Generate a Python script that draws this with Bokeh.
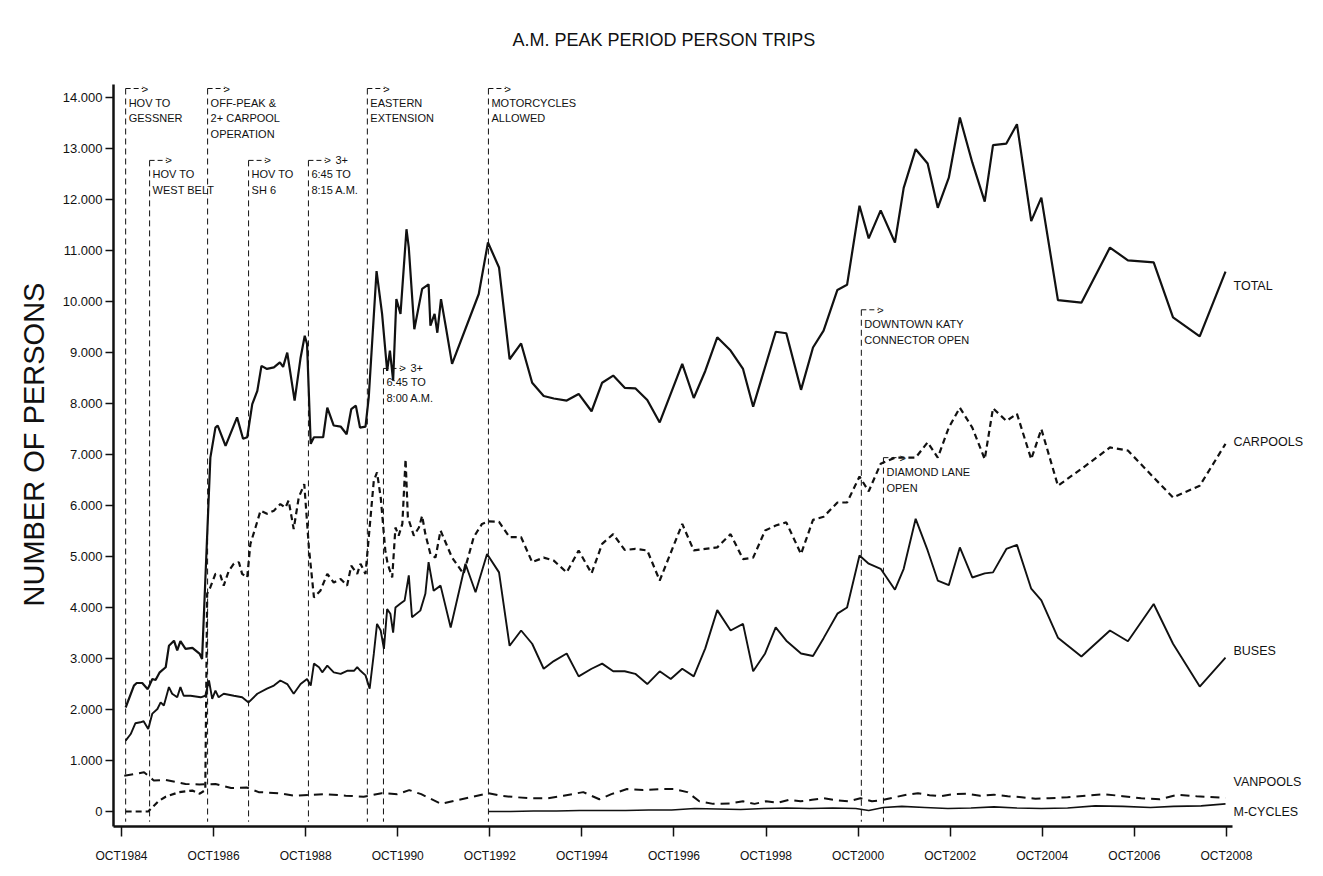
from bokeh.plotting import figure
from bokeh.models import FixedTicker, Range1d
from bokeh.core.properties import value
from bokeh.embed import file_html
from bokeh.resources import INLINE

# ---------------- data ----------------
x_tick_values = [1984.75, 1986.75, 1988.75, 1990.75, 1992.75, 1994.75, 1996.75,
                 1998.75, 2000.75, 2002.75, 2004.75, 2006.75, 2008.75]
x_tick_labels = ["OCT1984", "OCT1986", "OCT1988", "OCT1990", "OCT1992", "OCT1994", "OCT1996",
                 "OCT1998", "OCT2000", "OCT2002", "OCT2004", "OCT2006", "OCT2008"]
y_tick_values = [0, 1000, 2000, 3000, 4000, 5000, 6000, 7000, 8000, 9000, 10000, 11000, 12000, 13000, 14000]
y_tick_labels = ["0", "1.000", "2.000", "3.000", "4.000", "5.000", "6.000", "7.000", "8.000",
                 "9.000", "10.000", "11.000", "12.000", "13.000", "14.000"]

total_x = [1984.84, 1985.02, 1985.08, 1985.20, 1985.32, 1985.42, 1985.49, 1985.58, 1985.71, 1985.78,
           1985.89, 1985.96, 1986.03, 1986.14, 1986.29, 1986.45, 1986.50, 1986.68, 1986.79, 1986.84,
           1987.01, 1987.26, 1987.39, 1987.48, 1987.59, 1987.70, 1987.79, 1987.91, 1988.06, 1988.19,
           1988.26, 1988.35, 1988.51, 1988.64, 1988.73, 1988.78, 1988.86, 1988.93, 1989.13, 1989.22,
           1989.36, 1989.51, 1989.64, 1989.74, 1989.84, 1989.93, 1990.05, 1990.12, 1990.29, 1990.41,
           1990.52, 1990.58, 1990.65, 1990.72, 1990.81, 1990.94, 1990.99, 1991.11, 1991.28, 1991.42,
           1991.46, 1991.55, 1991.61, 1991.69, 1991.79, 1991.93, 1992.51,
           1992.71, 1992.95, 1993.18, 1993.43, 1993.67, 1993.92, 1994.14, 1994.42, 1994.68, 1994.96,
           1995.19, 1995.43, 1995.68, 1995.91, 1996.17, 1996.44, 1996.93, 1997.18, 1997.43, 1997.69,
           1997.98, 1998.25, 1998.47, 1998.96, 1999.19, 1999.51, 1999.77, 2000.00, 2000.30, 2000.51,
           2000.78, 2000.98, 2001.24, 2001.55, 2001.74, 2002.00, 2002.26, 2002.48, 2002.72, 2002.96,
           2003.23, 2003.50, 2003.68, 2003.97, 2004.20, 2004.51, 2004.73, 2005.09, 2005.60, 2006.22,
           2006.61, 2007.17, 2007.59, 2008.17, 2008.73]
total_y = [2040, 2470, 2520, 2520, 2400, 2600, 2580, 2730, 2830, 3250,
           3350, 3160, 3340, 3190, 3210, 3090, 2990, 6940, 7530, 7570,
           7170, 7730, 7310, 7340, 7990, 8250, 8740, 8680, 8710, 8810,
           8720, 9000, 8060, 8900, 9330, 9170, 7210, 7340, 7340, 7920,
           7570, 7550, 7400, 7890, 7960, 7530, 7550, 8120, 10600, 9760,
           8640, 9040, 8450, 10050, 9760, 11420, 11060, 9460, 10250, 10340,
           9530, 9760, 9390, 10050, 9530, 8780, 10150,
           11160, 10670, 8870, 9180, 8410, 8150, 8100, 8060, 8190, 7850,
           8410, 8550, 8310, 8300, 8070, 7630, 8780, 8110, 8640, 9300,
           9040, 8680, 7940, 9410, 9380, 8270, 9100, 9430, 10230, 10330,
           11880, 11240, 11790, 11160, 12230, 12990, 12710, 11840, 12430, 13610,
           12730, 11960, 13070, 13100, 13480, 11580, 12040, 10030, 9980, 11060,
           10810, 10770, 9690, 9320, 10590]

carpool_x = [1984.84, 1985.33, 1985.55, 1985.71, 1986.00, 1986.29, 1986.45, 1986.57, 1986.61, 1986.68,
             1986.79, 1986.90, 1986.97, 1987.08, 1987.19, 1987.30, 1987.37, 1987.48, 1987.55, 1987.66,
             1987.77, 1987.91, 1988.06, 1988.20, 1988.31, 1988.38, 1988.49, 1988.60, 1988.72, 1988.82,
             1988.93, 1989.07, 1989.22, 1989.36, 1989.51, 1989.65, 1989.74, 1989.87, 1989.94, 1990.05,
             1990.23, 1990.30, 1990.38, 1990.48, 1990.53, 1990.63, 1990.70, 1990.77, 1990.85, 1990.92,
             1990.97, 1991.10, 1991.21, 1991.28, 1991.35, 1991.46, 1991.57, 1991.68, 1991.93, 1992.18,
             1992.40, 1992.58, 1992.73,
             1992.95, 1993.18, 1993.43, 1993.67, 1993.92, 1994.14, 1994.42, 1994.68, 1994.96, 1995.19,
             1995.43, 1995.68, 1995.91, 1996.17, 1996.44, 1996.93, 1997.18, 1997.43, 1997.69, 1997.98,
             1998.25, 1998.47, 1998.73, 1998.96, 1999.19, 1999.51, 1999.77, 2000.00, 2000.30, 2000.51,
             2000.78, 2000.98, 2001.24, 2001.55, 2001.74, 2002.00, 2002.26, 2002.48, 2002.72, 2002.96,
             2003.23, 2003.50, 2003.68, 2003.97, 2004.20, 2004.51, 2004.73, 2005.09, 2005.60, 2006.22,
             2006.61, 2007.17, 2007.59, 2008.17, 2008.73]
carpool_y = [0, 0, 200, 290, 380, 410, 350, 420, 4270, 4400,
             4660, 4630, 4430, 4720, 4860, 4890, 4660, 4590, 5250, 5570,
             5900, 5840, 5900, 6030, 5960, 6100, 5540, 6160, 6420, 5180,
             4200, 4330, 4660, 4490, 4560, 4430, 4820, 4660, 4860, 4660,
             6490, 6650, 6160, 5120, 4860, 4590, 5570, 5410, 5640, 6910,
             5770, 5410, 5570, 5800, 5440, 5050, 4980, 5510, 4980, 4660,
             5380, 5640, 5690,
             5680, 5380, 5380, 4890, 4980, 4920, 4690, 5120, 4670, 5250,
             5440, 5130, 5150, 5120, 4530, 5640, 5120, 5150, 5180, 5440,
             4950, 4980, 5510, 5610, 5670, 5050, 5720, 5780, 6060, 6060,
             6570, 6280, 6820, 6940, 6940, 6940, 7240, 6940, 7530, 7920,
             7530, 6910, 7910, 7660, 7800, 6910, 7500, 6390, 6720, 7140,
             7080, 6550, 6160, 6390, 7210]

bus_x = [1984.84, 1984.95, 1985.05, 1985.16, 1985.23, 1985.33, 1985.42, 1985.53, 1985.60, 1985.67,
         1985.78, 1985.85, 1985.96, 1986.03, 1986.10, 1986.25, 1986.47, 1986.57, 1986.65, 1986.72,
         1986.79, 1986.86, 1986.97, 1987.19, 1987.37, 1987.51, 1987.70, 1987.91, 1988.06, 1988.20,
         1988.35, 1988.49, 1988.64, 1988.78, 1988.86, 1988.93, 1989.04, 1989.11, 1989.22, 1989.36,
         1989.51, 1989.65, 1989.80, 1989.87, 1989.94, 1990.05, 1990.14, 1990.23, 1990.30, 1990.38,
         1990.45, 1990.52, 1990.59, 1990.65, 1990.70, 1990.81, 1990.90, 1990.99, 1991.06, 1991.24,
         1991.35, 1991.42, 1991.53, 1991.68, 1991.90, 1992.22, 1992.44, 1992.69,
         1992.95, 1993.18, 1993.43, 1993.67, 1993.92, 1994.14, 1994.42, 1994.68, 1994.96, 1995.19,
         1995.43, 1995.68, 1995.91, 1996.17, 1996.44, 1996.68, 1996.93, 1997.18, 1997.43, 1997.69,
         1997.98, 1998.25, 1998.47, 1998.73, 1998.96, 1999.19, 1999.51, 1999.77, 2000.00, 2000.30,
         2000.51, 2000.78, 2000.98, 2001.24, 2001.55, 2001.74, 2002.00, 2002.26, 2002.48, 2002.72,
         2002.96, 2003.23, 2003.50, 2003.68, 2003.97, 2004.20, 2004.51, 2004.73, 2005.09, 2005.60,
         2006.22, 2006.61, 2007.17, 2007.59, 2008.17, 2008.73]
bus_y = [1390, 1520, 1730, 1750, 1770, 1620, 1920, 2010, 2140, 2080,
         2440, 2310, 2240, 2440, 2270, 2270, 2240, 2270, 2570, 2210,
         2370, 2240, 2310, 2270, 2240, 2140, 2310, 2410, 2470, 2570,
         2500, 2310, 2500, 2600, 2470, 2900, 2830, 2730, 2860, 2730,
         2700, 2760, 2760, 2830, 2760, 2670, 2410, 3090, 3680, 3550,
         3190, 3970, 3880, 3510, 4000, 4080, 4140, 4630, 3810, 3940,
         4270, 4890, 4330, 4430, 3610, 4860, 4300, 5050,
         4690, 3250, 3550, 3290, 2800, 2950, 3100, 2650, 2800, 2900,
         2750, 2750, 2700, 2500, 2750, 2600, 2800, 2650, 3200, 3950,
         3550, 3680, 2750, 3100, 3610, 3350, 3100, 3050, 3400, 3880,
         4000, 5020, 4860, 4760, 4350, 4760, 5740, 5120, 4530, 4440,
         5180, 4590, 4670, 4690, 5150, 5230, 4370, 4140, 3410, 3040,
         3550, 3340, 4070, 3290, 2450, 3020]

van_x = [1984.81, 1985.24, 1985.45, 1985.71, 1986.14, 1986.44, 1986.79, 1987.13, 1987.47, 1987.73,
         1988.16, 1988.51, 1989.19, 1989.62, 1990.01, 1990.40, 1990.74, 1991.00, 1991.26, 1991.69,
         1992.03, 1992.38, 1992.72, 1992.98, 1993.32, 1993.67, 1994.01, 1994.35, 1994.78, 1995.13,
         1995.39, 1995.73, 1996.08, 1996.51, 1996.76, 1997.04, 1997.30, 1997.60, 1997.98, 1998.25,
         1998.50, 1998.75, 1999.00, 1999.25, 1999.50, 1999.75, 2000.00, 2000.30, 2000.55, 2000.80,
         2001.05, 2001.30, 2001.55, 2001.80, 2002.05, 2002.30, 2002.55, 2002.80, 2003.10, 2003.40,
         2003.70, 2004.00, 2004.30, 2004.60, 2004.90, 2005.30, 2005.70, 2006.10, 2006.50, 2006.90,
         2007.30, 2007.70, 2008.10, 2008.73]
van_y = [700, 770, 610, 620, 540, 530, 540, 460, 470, 380,
         360, 310, 340, 310, 290, 360, 340, 420, 340, 150,
         220, 290, 360, 310, 280, 260, 260, 310, 380, 240,
         340, 440, 420, 440, 440, 380, 200, 150, 160, 200,
         150, 200, 170, 230, 200, 230, 260, 220, 200, 260,
         200, 230, 280, 330, 360, 320, 300, 340, 350, 310,
         330, 300, 280, 250, 260, 280, 310, 340, 300, 260,
         240, 330, 300, 270]

mc_x = [1992.72, 1993.20, 1993.70, 1994.20, 1994.70, 1995.20, 1995.70, 1996.20, 1996.70, 1997.20,
        1997.70, 1998.20, 1998.70, 1999.20, 1999.70, 2000.20, 2000.70, 2000.98, 2001.30, 2001.70,
        2002.20, 2002.70, 2003.20, 2003.70, 2004.20, 2004.73, 2005.30, 2005.90, 2006.50, 2007.10,
        2007.60, 2008.20, 2008.73]
mc_y = [0, 0, 10, 10, 20, 20, 20, 30, 30, 60,
        50, 40, 60, 70, 60, 70, 60, 20, 80, 100,
        80, 60, 70, 90, 70, 60, 70, 110, 100, 80,
        100, 110, 150]

series_names = ["TOTAL", "CARPOOLS", "BUSES", "VANPOOLS", "M-CYCLES"]
series_label_y = [10310, 7250, 3140, 570, 0]

# events: date, top of bracket, extra arrow text, text lines
event_x = [1984.84, 1985.36, 1986.62, 1987.51, 1988.81, 1990.09, 1990.44, 1992.72, 2000.82, 2001.30]
event_top = [14180, 12770, 14180, 12770, 12770, 14180, 8690, 14180, 9840, 6940]
event_arrow_note = ["", "", "", "", "3+", "", "3+", "", "", ""]
event_lines = [["HOV TO", "GESSNER"],
               ["HOV TO", "WEST BELT"],
               ["OFF-PEAK &", "2+ CARPOOL", "OPERATION"],
               ["HOV TO", "SH 6"],
               ["6:45 TO", "8:15 A.M."],
               ["EASTERN", "EXTENSION"],
               ["6:45 TO", "8:00 A.M."],
               ["MOTORCYCLES", "ALLOWED"],
               ["DOWNTOWN KATY", "CONNECTOR OPEN"],
               ["DIAMOND LANE", "OPEN"]]

# ---------------- figure ----------------
FONT = "Liberation Sans"
INK = "#111111"
PX_PER_UNIT_Y = 0.0510   # text layout spacing only
X0, X1 = 1984.576, 2010.75
Y0, Y1 = -294, 14690

p = figure(width=1318, height=870, output_backend="svg", toolbar_location=None,
           x_range=Range1d(X0, X1), y_range=Range1d(Y0, Y1),
           title="A.M. PEAK PERIOD PERSON TRIPS",
           min_border_left=113, min_border_right=0, min_border_top=62, min_border_bottom=44)
p.title.align = "left"
p.title.offset = 399
p.title.text_font = FONT
p.title.text_font_size = "18px"
p.title.text_font_style = "normal"
p.title.text_color = INK
p.title.standoff = 26
p.grid.visible = False
p.outline_line_color = None
p.background_fill_color = "white"
p.border_fill_color = "white"

xa = p.xaxis[0]
ya = p.yaxis[0]
xa.ticker = FixedTicker(ticks=x_tick_values)
xa.major_label_overrides = dict(zip(x_tick_values, x_tick_labels))
ya.ticker = FixedTicker(ticks=y_tick_values)
ya.major_label_overrides = dict(zip(y_tick_values, y_tick_labels))
for ax in (xa, ya):
    ax.axis_line_width = 2.5
    ax.axis_line_color = INK
    ax.major_tick_line_color = INK
    ax.major_tick_line_width = 1.5
    ax.minor_tick_line_color = None
    ax.major_label_text_font = FONT
    ax.major_label_text_color = INK
xa.major_label_text_font_size = "12px"
ya.major_label_text_font_size = "13px"
xa.major_tick_out = 10
xa.major_tick_in = 0
xa.major_label_standoff = 12
ya.major_tick_out = 8
ya.major_tick_in = 0
ya.major_label_standoff = 3
xa.bounds = (X0, 2008.88)
ya.bounds = (Y0, 14250)
ya.axis_label = "NUMBER OF PERSONS"
ya.axis_label_text_font = FONT
ya.axis_label_text_font_size = "29px"
ya.axis_label_text_font_style = "normal"
ya.axis_label_text_color = INK
ya.axis_label_standoff = 10

# event markers
ev_bottom = [-200] * len(event_x)
p.segment(x0=event_x, y0=event_top, x1=event_x, y1=ev_bottom,
          line_color=INK, line_width=1, line_dash="6 4")
p.segment(x0=event_x, y0=event_top, x1=[x + 0.38 for x in event_x], y1=event_top,
          line_color=INK, line_width=1, line_dash="5 3")
p.text(x=event_x, y=event_top, text=[">"] * len(event_x), x_offset=16,
       text_font=value(FONT), text_font_size="11px", text_baseline="middle",
       text_align="left", text_color=INK)
note_x = [x for x, n in zip(event_x, event_arrow_note) if n]
note_y = [t for t, n in zip(event_top, event_arrow_note) if n]
note_t = [n for n in event_arrow_note if n]
p.text(x=note_x, y=note_y, text=note_t, x_offset=27,
       text_font=value(FONT), text_font_size="11px", text_baseline="middle",
       text_align="left", text_color=INK)
lx, ly, lt = [], [], []
first_gap = 14 / PX_PER_UNIT_Y
line_gap = 16 / PX_PER_UNIT_Y
for ex, et, lines in zip(event_x, event_top, event_lines):
    for i, line in enumerate(lines):
        lx.append(ex)
        ly.append(et - first_gap - i * line_gap)
        lt.append(line)
p.text(x=lx, y=ly, text=lt, x_offset=3,
       text_font=value(FONT), text_font_size="11px", text_baseline="middle",
       text_align="left", text_color=INK)

# series
p.line(total_x, total_y, line_color=INK, line_width=2.2)
p.line(carpool_x, carpool_y, line_color=INK, line_width=2.2, line_dash="6 4")
p.line(bus_x, bus_y, line_color=INK, line_width=1.9)
p.line(van_x, van_y, line_color=INK, line_width=2.0, line_dash="9 6")
p.line(mc_x, mc_y, line_color=INK, line_width=1.6)

end_x = [total_x[-1], carpool_x[-1], bus_x[-1], van_x[-1], mc_x[-1]]
p.text(x=end_x, y=series_label_y, text=series_names, x_offset=8,
       text_font=value(FONT), text_font_size="12.5px", text_baseline="middle",
       text_align="left", text_color=INK)

open("out.html", "w").write(file_html(p, INLINE))
